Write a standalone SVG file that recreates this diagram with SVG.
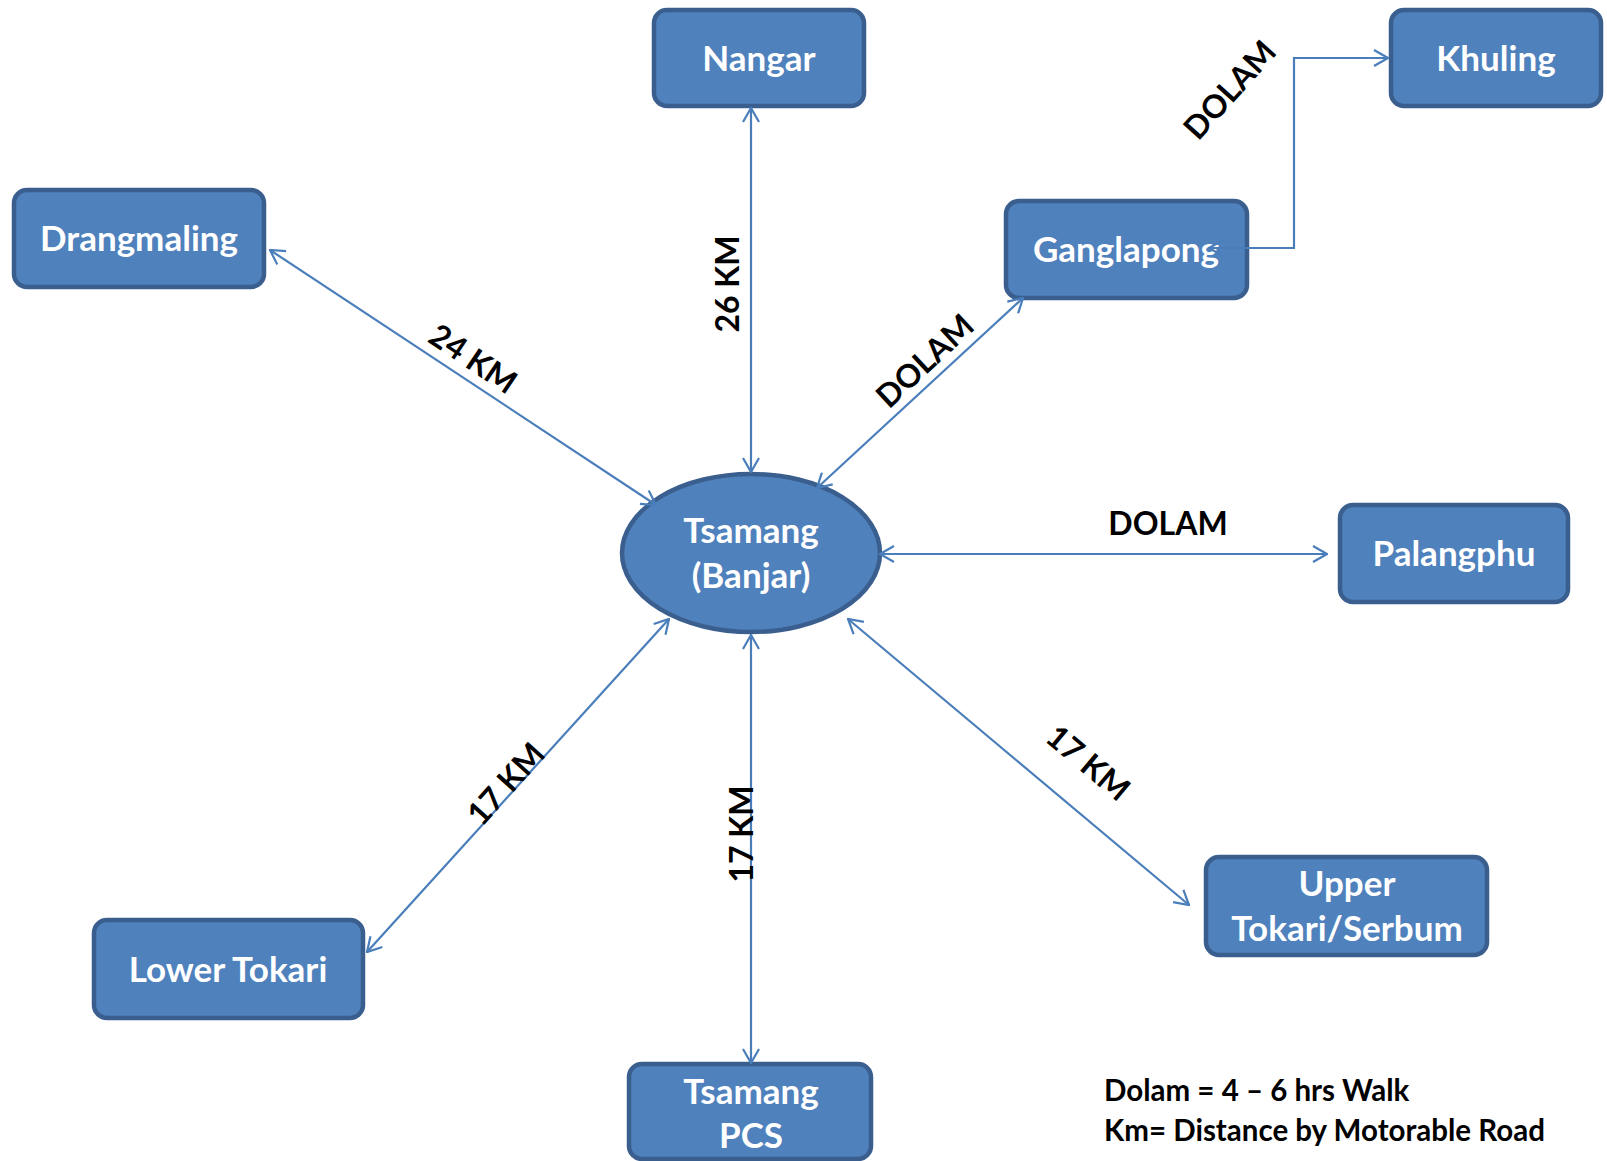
<svg xmlns="http://www.w3.org/2000/svg" width="1607" height="1161" viewBox="0 0 1607 1161">
<style>
.node{fill:#4F81BD;stroke:#3A5F8E;stroke-width:4.5}
.nt{font-family:Lato,"Liberation Sans",sans-serif;font-weight:bold;font-size:35px;fill:#FFFFFF;text-anchor:middle}
.lb{font-family:Lato,"Liberation Sans",sans-serif;font-weight:bold;font-size:32px;fill:#000000;text-anchor:middle}
.lg{font-family:Lato,"Liberation Sans",sans-serif;font-weight:bold;font-size:29.5px;fill:#000000}
.cn{fill:none;stroke:#4A7EBB;stroke-width:2.2}
</style>
<defs>
<marker id="arr" viewBox="0 0 16 18" refX="15" refY="9" markerWidth="16" markerHeight="18" markerUnits="userSpaceOnUse" orient="auto-start-reverse">
<path d="M1,1 L15,9 L1,17" fill="none" stroke="#4A7EBB" stroke-width="2.2"/>
</marker>
</defs>
<rect width="1607" height="1161" fill="#FFFFFF"/>
<g id="nangar"><rect class="node" x="654" y="10" width="210" height="96" rx="13"/><text class="nt" x="759" y="71">Nangar</text></g>
<g id="khuling"><rect class="node" x="1391" y="10" width="210" height="96" rx="13"/><text class="nt" x="1496" y="71">Khuling</text></g>
<g id="drangmaling"><rect class="node" x="14" y="190" width="250" height="97" rx="13"/><text class="nt" x="139" y="251">Drangmaling</text></g>
<g id="ganglapong"><rect class="node" x="1006" y="201" width="241" height="97" rx="13"/><text class="nt" x="1126" y="262">Ganglapong</text></g>
<g id="tsamang"><ellipse class="node" cx="751" cy="553" rx="129" ry="79"/><text class="nt" x="751" y="543">Tsamang</text><text class="nt" x="751" y="588">(Banjar)</text></g>
<g id="palangphu"><rect class="node" x="1340" y="505" width="228" height="97" rx="13"/><text class="nt" x="1454" y="566">Palangphu</text></g>
<g id="upper"><rect class="node" x="1206" y="857" width="281" height="98" rx="13"/><text class="nt" x="1347" y="896">Upper</text><text class="nt" x="1347" y="941">Tokari/Serbum</text></g>
<g id="lower"><rect class="node" x="94" y="920" width="269" height="98" rx="13"/><text class="nt" x="228" y="982">Lower Tokari</text></g>
<g id="pcs"><rect class="node" x="629" y="1064" width="242" height="95" rx="13"/><text class="nt" x="751" y="1104">Tsamang</text><text class="nt" x="751" y="1148">PCS</text></g>
<g id="connectors">
<line class="cn" x1="751" y1="108" x2="751" y2="472" marker-start="url(#arr)" marker-end="url(#arr)"/>
<line class="cn" x1="270" y1="250" x2="656" y2="505" marker-start="url(#arr)" marker-end="url(#arr)"/>
<line class="cn" x1="1023" y1="298" x2="817" y2="488" marker-start="url(#arr)" marker-end="url(#arr)"/>
<line class="cn" x1="880" y1="554" x2="1327" y2="554" marker-start="url(#arr)" marker-end="url(#arr)"/>
<line class="cn" x1="848" y1="619" x2="1189" y2="905" marker-start="url(#arr)" marker-end="url(#arr)"/>
<line class="cn" x1="751" y1="635" x2="751" y2="1063" marker-start="url(#arr)" marker-end="url(#arr)"/>
<line class="cn" x1="669" y1="619" x2="367" y2="952" marker-start="url(#arr)" marker-end="url(#arr)"/>
<polyline class="cn" points="1209,248 1294,248 1294,58 1388,58" marker-start="url(#arr)" marker-end="url(#arr)"/>
</g>
<g id="labels">
<text class="lb" transform="translate(473,359) rotate(34)" y="11">24 KM</text>
<text class="lb" transform="translate(728,284) rotate(-90)" y="11">26 KM</text>
<text class="lb" transform="translate(925,361) rotate(-43)" y="11">DOLAM</text>
<text class="lb" transform="translate(1230,90) rotate(-48)" y="11">DOLAM</text>
<text class="lb" x="1168" y="535">DOLAM</text>
<text class="lb" transform="translate(1088,763) rotate(40)" y="11">17 KM</text>
<text class="lb" transform="translate(742,834) rotate(-90)" y="11">17 KM</text>
<text class="lb" transform="translate(506,784) rotate(-48)" y="11">17 KM</text>
<text class="lg" x="1104" y="1101">Dolam = 4 – 6 hrs Walk</text>
<text class="lg" x="1104" y="1141">Km= Distance by Motorable Road</text>
</g>
</svg>
